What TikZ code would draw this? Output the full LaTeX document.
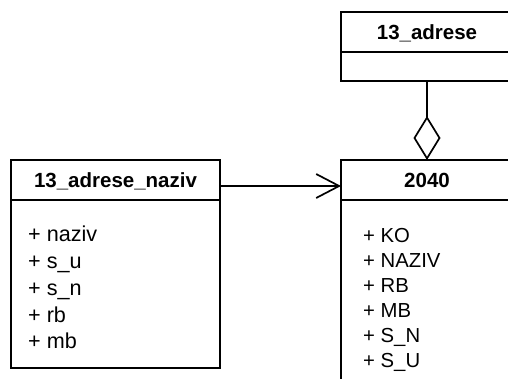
\documentclass[tikz,border=0pt]{standalone}
\usepackage{fontspec}
\setmainfont{Liberation Sans}
\usetikzlibrary{arrows.meta,positioning,calc}

\begin{document}
\begin{tikzpicture}[x=1pt,y=1pt,yscale=-1,xscale=1,
    box/.style={draw, rectangle, line width=1.7pt, inner sep=0pt, outer sep=0pt, anchor=north west, minimum width=172pt},
    head/.style={box, minimum height=40pt, font=\bfseries\fontsize{20.5}{24}\selectfont, text height=14.6pt, text depth=0pt},
    attr/.style={anchor=base west, inner sep=0pt, font=\fontsize{20.3}{24}\selectfont},
    attrbig/.style={attr, font=\fontsize{21.6}{26}\selectfont}]
        \useasboundingbox (0,0) rectangle (508,378);
        
        % Class 13_adrese
        \node [head] (adrese) at (341,12) {13\_adrese};
        \node [box, minimum height=29pt, below=0pt of adrese] (adreseBody) {};
        % Class 2040
        \node [head] (klasa) at (341,160) {2040};
        \node [box, minimum height=200pt, below=0pt of klasa] (klasaBody) {};
        % Class 13_adrese_naziv
        \node [head, minimum width=209pt] (naziv) at (11,160) {13\_adrese\_naziv};
        \node [box, minimum width=209pt, minimum height=168pt, below=0pt of naziv] (nazivBody) {};
        
        % Text Node
        \node [attrbig] (nazivA) at (28,241) {+ naziv};
        % Text Node
        \node [attrbig] (nazivB) at (28,268) {+ s\_u};
        % Text Node
        \node [attrbig] (nazivC) at (28,295) {+ s\_n};
        % Text Node
        \node [attrbig] (nazivD) at (28,322) {+ rb};
        % Text Node
        \node [attrbig] (nazivE) at (28,348.5) {+ mb};
        
        % Text Node
        \node [attr] (klasaA) at (363,242) {+ KO};
        % Text Node
        \node [attr] (klasaB) at (363,267) {+ NAZIV};
        % Text Node
        \node [attr] (klasaC) at (363,292.5) {+ RB};
        % Text Node
        \node [attr] (klasaD) at (363,317) {+ MB};
        % Text Node
        \node [attr] (klasaE) at (363,342.5) {+ S\_N};
        % Text Node
        \node [attr] (klasaF) at (363,367) {+ S\_U};
        
        % Aggregation
        \draw [line width=1.7pt, -{Diamond[open, length=44pt, width=27pt]}] (adreseBody) -- (klasa);
        % Association
        \draw [line width=1.7pt, -{Straight Barb[length=23pt, width=24pt]}] ($(naziv.east)+(0,6)$) -- ($(klasa.west)+(0,6)$);
        
    \end{tikzpicture}
\end{document}
